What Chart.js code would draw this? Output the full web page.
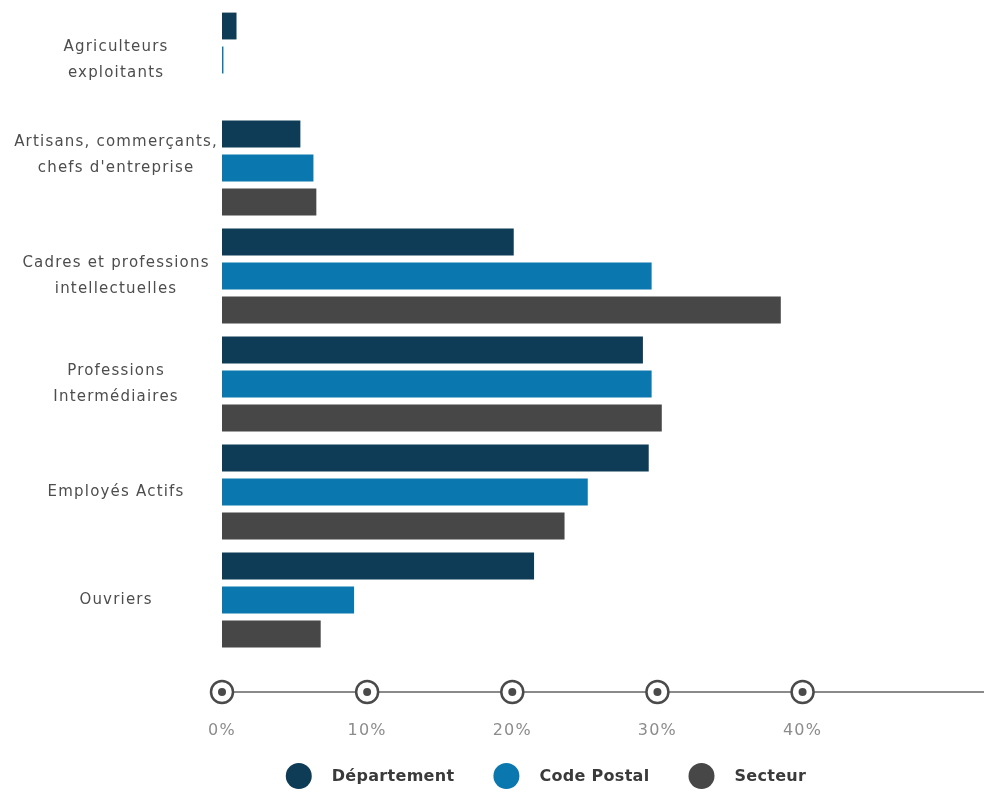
<!DOCTYPE html>
<html lang="fr">
<head>
<meta charset="utf-8">
<title>Catégories socioprofessionnelles</title>
<script src="https://cdn.jsdelivr.net/npm/chart.js@4/dist/chart.umd.min.js"></script>
<style>
  html, body { margin: 0; padding: 0; background: #ffffff; }
  canvas { display: block; }
</style>
</head>
<body>
<canvas id="csp" width="984" height="797"></canvas>
<script>
// Catégories (le libellé "Artisans" porte une ligne vide pour remonter le texte)
const categories = [
  ['Agriculteurs', 'exploitants'],
  ['Artisans, commerçants,', "chefs d'entreprise", ''],
  ['Cadres et professions', 'intellectuelles'],
  ['Professions', 'Intermédiaires'],
  'Employés Actifs',
  'Ouvriers'
];

const seriesNames = ['Département', 'Code Postal', 'Secteur'];

// Parts en %
const departement = [1.0, 5.4, 20.1, 29.0, 29.4, 21.5];
const codePostal  = [0.1, 6.3, 29.6, 29.6, 25.2, 9.1];
const secteur     = [0.0, 6.5, 38.5, 30.3, 23.6, 6.8];

// Graduations affichées sur l'axe horizontal
const tickValues = [0, 10, 20, 30, 40];

const seriesColors = ['#0e3c56', '#0a78ae', '#474747'];

// Trait d'axe horizontal avec pastilles cerclées à chaque graduation
const axisDots = {
  id: 'axisDots',
  afterDraw(chart, args, o) {
    const sx = chart.scales.x;
    const ctx = chart.ctx;
    const y = chart.chartArea.bottom + o.offset;
    const x0 = sx.getPixelForValue(tickValues[0]);
    ctx.save();
    ctx.strokeStyle = o.lineColor;
    ctx.lineWidth = o.lineWidth;
    ctx.beginPath();
    ctx.moveTo(x0, y);
    ctx.lineTo(chart.width, y);
    ctx.stroke();
    sx.ticks.forEach(t => {
      const px = sx.getPixelForValue(t.value);
      ctx.beginPath();
      ctx.arc(px, y, o.ring, 0, Math.PI * 2);
      ctx.fillStyle = '#ffffff';
      ctx.fill();
      ctx.lineWidth = o.ringWidth;
      ctx.strokeStyle = o.ringColor;
      ctx.stroke();
      ctx.beginPath();
      ctx.arc(px, y, o.dot, 0, Math.PI * 2);
      ctx.fillStyle = o.ringColor;
      ctx.fill();
    });
    ctx.restore();
  }
};

// Légende à pastilles rondes sous l'axe
const roundLegend = {
  id: 'roundLegend',
  afterDraw(chart, args, o) {
    const ctx = chart.ctx;
    const sets = chart.data.datasets;
    ctx.save();
    ctx.letterSpacing = '0.3px';
    ctx.font = o.font;
    ctx.textBaseline = 'middle';
    ctx.textAlign = 'left';
    const widths = sets.map(d => ctx.measureText(d.label).width);
    const total = o.radius + widths.reduce((s, w) => s + o.textGap + w, 0)
      + (sets.length - 1) * o.itemGap;
    let cx = o.centerX - total / 2 + o.radius;
    const y = chart.height - o.bottom;
    sets.forEach((d, i) => {
      ctx.beginPath();
      ctx.arc(cx, y, o.radius, 0, Math.PI * 2);
      ctx.fillStyle = d.backgroundColor;
      ctx.fill();
      ctx.fillStyle = o.color;
      ctx.fillText(d.label, cx + o.textGap, y + 1);
      cx += o.textGap + widths[i] + o.itemGap;
    });
    ctx.restore();
  }
};

// Léger interlettrage des textes du graphique
const tracking = {
  id: 'tracking',
  beforeLayout(chart) { chart.ctx.letterSpacing = '1.2px'; },
  beforeDraw(chart) { chart.ctx.letterSpacing = '1.2px'; }
};

const barOpts = { categoryPercentage: 0.944, barPercentage: 0.79, borderWidth: 0 };

new Chart(document.getElementById('csp'), {
  type: 'bar',
  data: {
    labels: categories,
    datasets: [
      { label: seriesNames[0], data: departement, backgroundColor: seriesColors[0], ...barOpts },
      { label: seriesNames[1], data: codePostal,  backgroundColor: seriesColors[1], ...barOpts },
      { label: seriesNames[2], data: secteur,     backgroundColor: seriesColors[2], ...barOpts }
    ]
  },
  options: {
    indexAxis: 'y',
    responsive: false,
    animation: false,
    devicePixelRatio: 1,
    layout: { padding: { top: 6, left: 0, right: 0, bottom: 43 } },
    plugins: {
      legend: { display: false },
      tooltip: { enabled: false },
      axisDots: { offset: 38, lineColor: '#8a8a8a', lineWidth: 2, ring: 11, ringWidth: 2.5, ringColor: '#4a4a4a', dot: 4 },
      roundLegend: { font: 'bold 16px "DejaVu Sans"', color: '#3a3a3a', radius: 13, textGap: 33, itemGap: 52, centerX: 546, bottom: 21 }
    },
    scales: {
      x: {
        min: 0,
        max: 52.5,
        grid: { display: false, drawTicks: false },
        border: { display: false },
        afterBuildTicks(scale) {
          scale.ticks = tickValues.map(v => ({ value: v }));
        },
        afterFit(scale) {
          scale.height = 100;
          scale.paddingLeft = 0;
          scale.paddingRight = 0;
        },
        ticks: {
          padding: 67,
          color: '#8c8c8c',
          font: { family: '"DejaVu Sans"', size: 16 },
          callback: v => v + '%'
        }
      },
      y: {
        grid: { display: false, drawTicks: false },
        border: { display: false },
        afterFit(scale) {
          scale.width = 222;
          scale.paddingTop = 0;
          scale.paddingBottom = 0;
        },
        ticks: {
          crossAlign: 'center',
          padding: 4,
          color: '#4d4d4d',
          font: { family: '"DejaVu Sans"', size: 15, lineHeight: 1.73 }
        }
      }
    }
  },
  plugins: [tracking, axisDots, roundLegend]
});
</script>
</body>
</html>
